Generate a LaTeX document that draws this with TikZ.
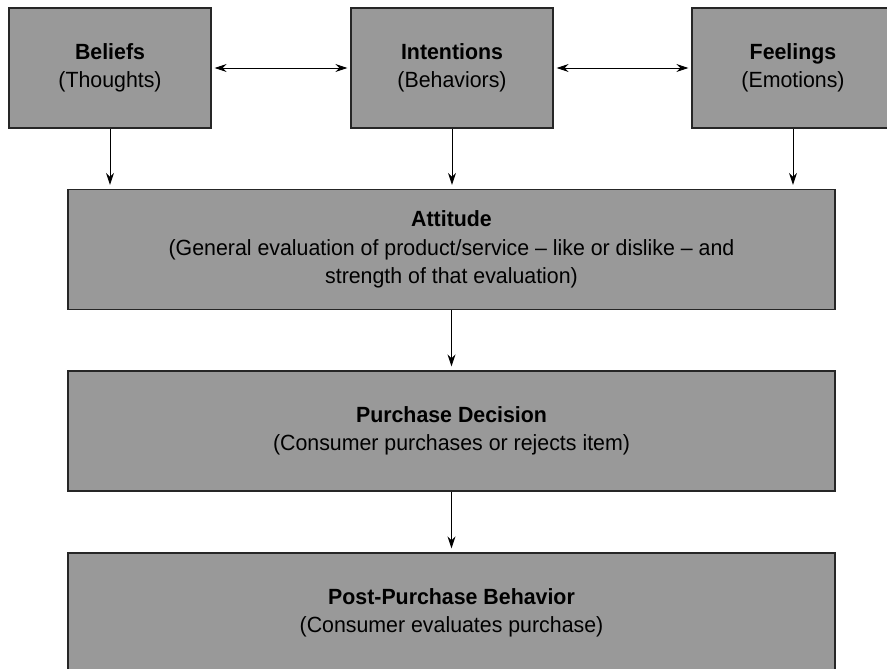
\documentclass[tikz,border=0pt]{standalone}
\usepackage{fontspec}
\setmainfont[FakeStretch=0.97]{Liberation Sans}
\usetikzlibrary{arrows.meta}

\begin{document}
\begin{tikzpicture}[x=1pt,y=1pt,
  caja/.style={draw=black!85, line width=1.3pt, fill=black!40, minimum width=202pt,
    minimum height=120pt, inner sep=0pt, align=center, font=\fontsize{22}{28.5}\selectfont},
  ancha/.style={caja, minimum width=767pt},
  flecha/.style={-{Stealth[length=12pt,width=8pt]}, line width=0.9pt, shorten >=4pt},
  doble/.style={{Stealth[length=12pt,width=8pt]}-{Stealth[length=12pt,width=8pt]}, line width=0.9pt, shorten >=3pt, shorten <=3pt}]
% Modelo de actitud del consumidor
\useasboundingbox (0,0) rectangle (887,-669);
\node[caja] (creencias) at (110,-68) {\textbf{Beliefs}\\(Thoughts)};
\node[caja] (intenciones) at (452,-68) {\textbf{Intentions}\\(Behaviors)};
\node[caja] (sentimientos) at (793,-68) {\textbf{Feelings}\\(Emotions)};
\node[ancha] (actitud) at (451.5,-249.5) {\textbf{Attitude}\\(General evaluation of product/service -- like or dislike -- and\\strength of that evaluation)};
\node[ancha] (decision) at (451.5,-431) {\textbf{Purchase Decision}\\(Consumer purchases or rejects item)};
\node[ancha] (post) at (451.5,-613) {\textbf{Post-Purchase Behavior}\\(Consumer evaluates purchase)};
\draw[doble] (creencias.east) -- (intenciones.west);
\draw[doble] (intenciones.east) -- (sentimientos.west);
\draw[flecha] (creencias.south) -- (creencias.south |- actitud.north);
\draw[flecha] (intenciones.south) -- (intenciones.south |- actitud.north);
\draw[flecha] (sentimientos.south) -- (sentimientos.south |- actitud.north);
\draw[flecha] (actitud.south) -- (decision.north);
\draw[flecha] (decision.south) -- (post.north);
\end{tikzpicture}
\end{document}
